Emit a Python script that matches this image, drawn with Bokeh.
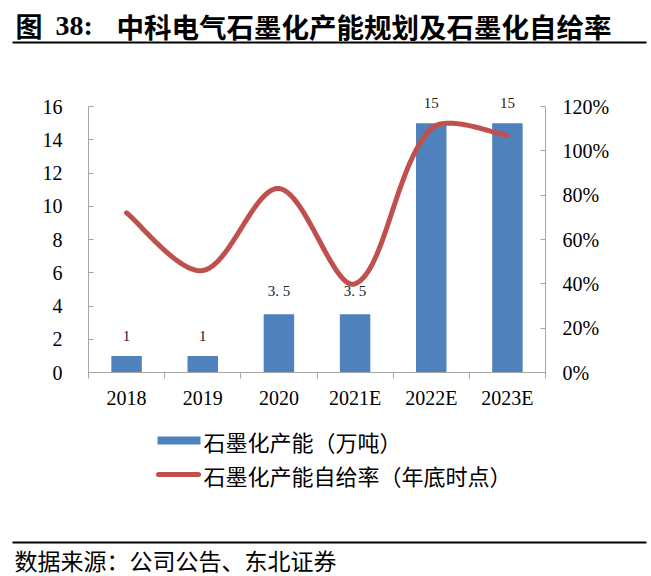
import numpy as np
from bokeh.plotting import figure
from bokeh.models import Range1d, LinearAxis, FixedTicker, NumeralTickFormatter
from bokeh.core.properties import value
from bokeh.embed import file_html
from bokeh.resources import INLINE

# ---------------- data ----------------
categories = ["2018", "2019", "2020", "2021E", "2022E", "2023E"]
capacity = [1, 1, 3.5, 3.5, 15, 15]                 # 万吨
bar_labels = ["1", "1", "3. 5", "3. 5", "15", "15"]
self_rate = [0.72, 0.46, 0.83, 0.40, 1.10, 1.07]    # 自给率
left_ticks = [0, 2, 4, 6, 8, 10, 12, 14, 16]
right_ticks = [0, 0.2, 0.4, 0.6, 0.8, 1.0, 1.2]

title_fig = "图"
title_num = "38:"
title_text = "中科电气石墨化产能规划及石墨化自给率"
legend_bar = "石墨化产能（万吨）"
legend_line = "石墨化产能自给率（年底时点）"
source_text = "数据来源：公司公告、东北证券"

# ---------------- styles / geometry ----------------
AX = "#a6a6a6"
SERIF = "Liberation Serif"
CJK = "Noto Sans CJK SC"
BLUE = "#4f81bd"
RED = "#c0504d"

W, H = 651, 576
PX_L, PX_R, PX_T, PX_B = 88, 545, 106, 372   # axis box in page pixels
LEFT_MAX, RIGHT_MAX = 16, 1.2
ncat = len(categories)

ux = (PX_R - PX_L) / ncat
uy = (PX_B - PX_T) / LEFT_MAX
up = (PX_B - PX_T) / RIGHT_MAX

p = figure(width=W, height=H, output_backend="svg", toolbar_location=None,
           x_range=Range1d(-PX_L / ux, (W - PX_L) / ux),
           y_range=Range1d(-(H - PX_B) / uy, PX_B / uy),
           frame_width=W, frame_height=H,
           min_border_left=0, min_border_right=0, min_border_top=0, min_border_bottom=0,
           x_axis_type=None, y_axis_type=None)
p.extra_y_ranges = {"pct": Range1d(-(H - PX_B) / up, PX_B / up),
                    "py": Range1d(H, 0)}
p.extra_x_ranges = {"px": Range1d(0, W)}
p.outline_line_color = None
p.background_fill_color = "white"
p.border_fill_color = "white"

xs = [i + 0.5 for i in range(ncat)]

# bars
bars = p.vbar(x=xs, top=capacity, width=0.4, fill_color=BLUE, line_color=None)

# smoothed line (Excel-like bezier smoothing through the data points)
P = np.array([[x * ux, y * up] for x, y in zip(xs, self_rate)])
n = len(P)
curve = []
for i in range(n - 1):
    p0 = P[i - 1] if i > 0 else P[i]
    p1, p2 = P[i], P[i + 1]
    p3 = P[i + 2] if i + 2 < n else P[i + 1]
    t1 = p2 - p0
    if i > 0:
        dp, dn = np.linalg.norm(p1 - p0), np.linalg.norm(p2 - p1)
        c1 = p1 + t1 * (dn / (dp + dn)) / 3.0
    else:
        c1 = p1 + t1 / 6.0
    t2 = p3 - p1
    if i + 2 < n:
        dp, dn = np.linalg.norm(p2 - p1), np.linalg.norm(p3 - p2)
        c2 = p2 - t2 * (dp / (dp + dn)) / 3.0
    else:
        c2 = p2 - t2 / 6.0
    ts = np.linspace(0, 1, 40)[:, None] if i == 0 else np.linspace(0, 1, 40)[1:, None]
    seg = ((1 - ts) ** 3) * p1 + 3 * ((1 - ts) ** 2) * ts * c1 + 3 * (1 - ts) * ts ** 2 * c2 + ts ** 3 * p2
    curve.append(seg)
curve = np.vstack(curve)
line = p.line(x=curve[:, 0] / ux, y=curve[:, 1] / up, y_range_name="pct",
              line_color=RED, line_width=5, line_cap="round", line_join="round")

# bar value labels
p.text(x=xs, y=capacity, text=bar_labels, text_align="center", text_baseline="bottom",
       y_offset=-15, text_font=value(SERIF), text_font_size="15px", text_color="#222222")

# ---------------- axes (fixed at the chart box) ----------------
xa = LinearAxis(fixed_location=0, bounds=(0, ncat),
                ticker=FixedTicker(ticks=xs, minor_ticks=list(range(ncat + 1))))
xa.major_label_overrides = {x: c for x, c in zip(xs, categories)}
xa.major_tick_line_color = None
xa.major_tick_out = 0
xa.major_tick_in = 0
xa.minor_tick_out = 6
xa.minor_tick_in = 0
xa.minor_tick_line_color = AX
xa.axis_line_color = AX
xa.major_label_standoff = 8
xa.major_label_text_font = SERIF
xa.major_label_text_font_size = "20px"
xa.major_label_text_color = "black"
p.add_layout(xa, "below")

ly = LinearAxis(fixed_location=0, bounds=(0, LEFT_MAX), ticker=FixedTicker(ticks=left_ticks))
ly.axis_line_color = AX
ly.major_tick_line_color = AX
ly.major_tick_in = 5
ly.major_tick_out = 0
ly.minor_tick_line_color = None
ly.major_label_standoff = 26
ly.major_label_text_font = SERIF
ly.major_label_text_font_size = "20px"
ly.major_label_text_color = "black"
p.add_layout(ly, "left")

ry = LinearAxis(y_range_name="pct", fixed_location=ncat, bounds=(0, RIGHT_MAX),
                ticker=FixedTicker(ticks=right_ticks),
                formatter=NumeralTickFormatter(format="0%"))
ry.axis_line_color = AX
ry.major_tick_line_color = AX
ry.major_tick_in = 5
ry.major_tick_out = 0
ry.minor_tick_line_color = None
ry.major_label_standoff = 17
ry.major_label_text_font = SERIF
ry.major_label_text_font_size = "20px"
ry.major_label_text_color = "black"
p.add_layout(ry, "right")

# ---------------- title, legend, footer (page-pixel ranges) ----------------
kw = dict(x_range_name="px", y_range_name="py")
p.text(x=[15], y=[25], text=[title_fig], text_font=value(CJK), text_font_style="bold",
       text_font_size="27px", text_baseline="middle", text_color="black", **kw)
p.text(x=[55], y=[25], text=[title_num], text_font=value(SERIF), text_font_style="bold",
       text_font_size="28px", text_baseline="middle", text_color="black", **kw)
p.text(x=[116], y=[25], text=[title_text], text_font=value(CJK), text_font_style="bold",
       text_font_size="27.5px", text_baseline="middle", text_color="black", **kw)
p.quad(left=[12], right=[646], top=[41], bottom=[43], fill_color="black", line_color=None, **kw)

p.quad(left=[157], right=[200], top=[436], bottom=[444], fill_color=BLUE, line_color=None, **kw)
p.text(x=[203], y=[440], text=[legend_bar], text_font=value(CJK), text_font_size="22px",
       text_baseline="middle", text_color="black", **kw)
p.segment(x0=[158], x1=[198], y0=[474], y1=[474], line_color=RED, line_width=5,
          line_cap="round", **kw)
p.text(x=[203], y=[474], text=[legend_line], text_font=value(CJK), text_font_size="22px",
       text_baseline="middle", text_color="black", **kw)

p.quad(left=[12], right=[646], top=[541], bottom=[543], fill_color="black", line_color=None, **kw)
p.text(x=[14], y=[559], text=[source_text], text_font=value(CJK), text_font_size="23px",
       text_baseline="middle", text_color="black", **kw)

open("out.html", "w").write(file_html(p, INLINE))
